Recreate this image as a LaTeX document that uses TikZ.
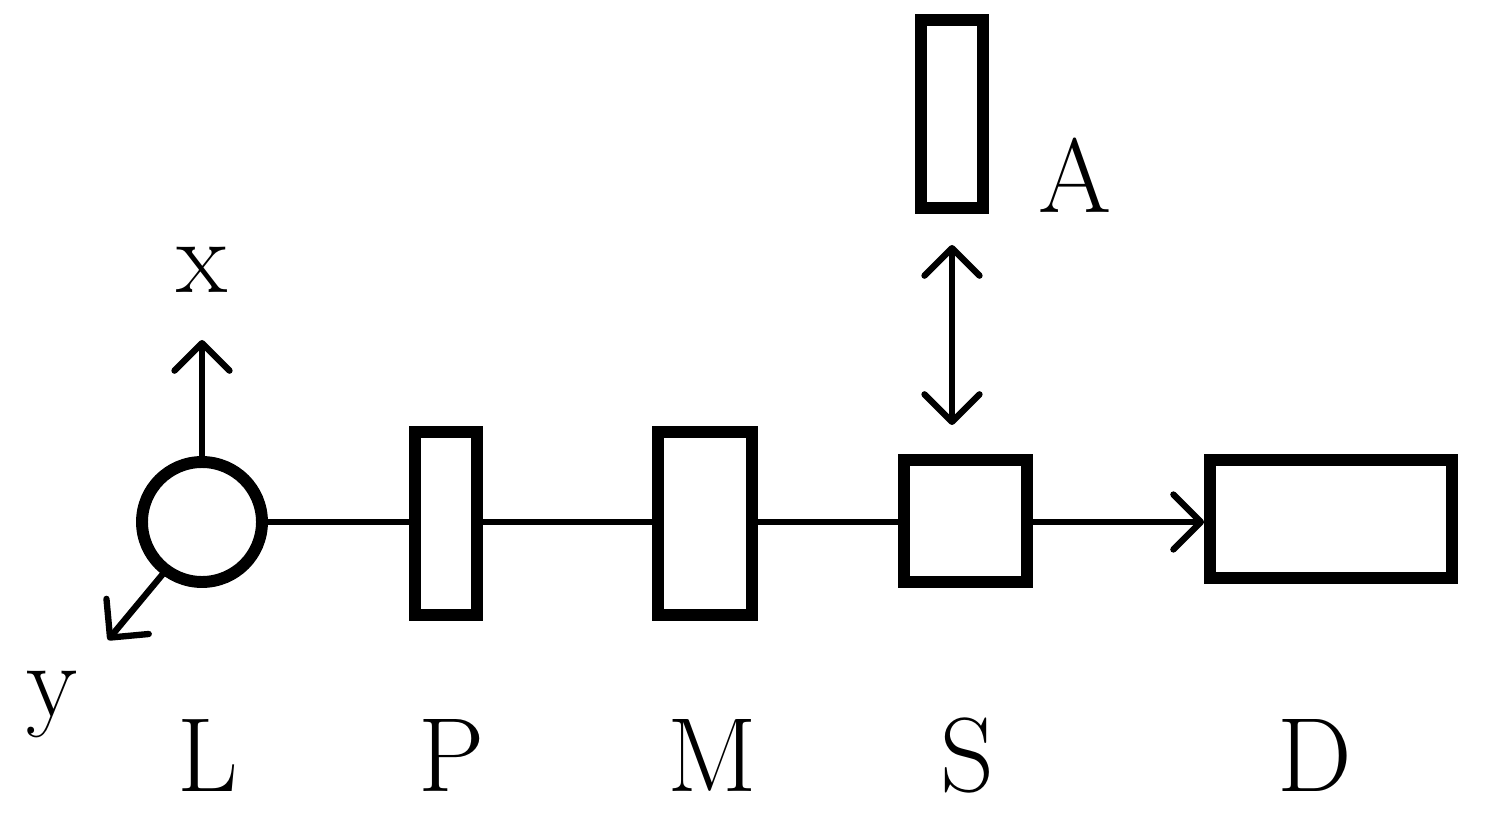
\documentclass[tikz,border=0pt]{standalone}
\usetikzlibrary{arrows.meta}
\begin{document}
\begin{tikzpicture}[x=0.02cm,y=-0.02cm,
 box/.style={draw,line width=6.8pt,inner sep=0pt},
 thin/.style={line width=3.6pt,line cap=round},
 tip/.style={-{Straight Barb[length=0.55cm,width=1.1cm,line width=3.6pt,round]}},
 lab/.style={font=\fontsize{60}{62}\selectfont,inner sep=0pt}]
\useasboundingbox (0,0) rectangle (1492,814);
\node[box,circle,minimum size=2.4cm] (L) at (202,522) {};
\node[box,minimum width=1.24cm,minimum height=3.66cm] (P) at (446,523.5) {};
\node[box,minimum width=1.88cm,minimum height=3.66cm] (M) at (705,523.5) {};
\node[box,minimum width=2.46cm,minimum height=2.44cm] (S) at (965.5,521) {};
\node[box,minimum width=4.84cm,minimum height=2.36cm] (D) at (1331,519) {};
\node[box,minimum width=1.24cm,minimum height=3.76cm] (A) at (952,114) {};
\draw[thin] (L.east) -- (P.west|-L.east) (P.east|-L.east) -- (M.west|-L.east) (M.east|-L.east) -- (S.west|-L.east);
\draw[thin,tip] (S.east|-L.east) -- (D.west|-L.east);
\coordinate (at) at (952,245); \coordinate (ab) at (952,425);
\draw[thin,{Straight Barb[length=0.55cm,width=1.1cm,line width=3.6pt,round]}-{Straight Barb[length=0.55cm,width=1.1cm,line width=3.6pt,round]}] (at) -- (ab);
\coordinate (xt) at (202,340);
\draw[thin,tip] (L.north) -- (xt);
\coordinate (yt) at (108,640);
\draw[thin,tip] (L.-127) -- (yt);
\node[lab] at (202,270) {x};
\node[lab] at (52,705) {y};
\node[lab] at (208,755) {L};
\node[lab] at (452,755) {P};
\node[lab] at (712,755) {M};
\node[lab] at (967,755) {S};
\node[lab] at (1315,755) {D};
\node[lab] at (1075,175) {A};
\end{tikzpicture}
\end{document}
